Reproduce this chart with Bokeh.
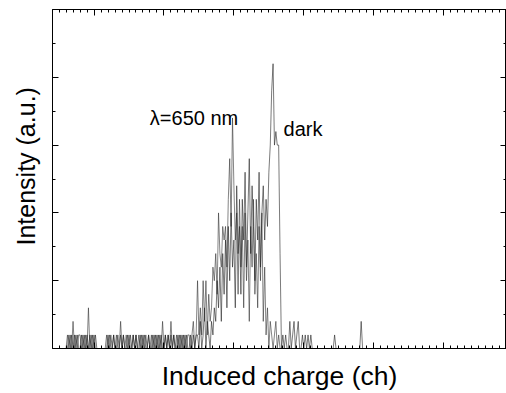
import numpy as np
from bokeh.plotting import figure
from bokeh.models import LinearAxis, FixedTicker, Label, Range1d, Title
from bokeh.embed import file_html
from bokeh.resources import INLINE

# ---- data (counts per channel) ----
lambda_start = 30
lambda_counts = (
    [0, 1, 0, 1, 0, 2, 0, 1, 0, 1, 1, 0, 1, 0, 1, 0, 3, 0, 1, 0, 1, 0, 0]
    + [0, 0, 0, 0, 0, 0]
    + [1, 0, 1, 0, 0, 1, 0, 1, 0, 0, 2, 0, 1, 0, 1, 0, 1, 0, 0, 1, 0, 1]
    + [0, 1, 0, 1, 0, 1, 0, 0, 1, 0, 1, 0, 1, 0, 1, 0, 1, 0, 2, 0, 1, 0, 1, 0, 2, 0, 1, 0, 1, 0]
    + [1, 0, 1, 0, 1, 0, 1, 1, 0, 1, 2, 0, 1]
    + [5, 1, 3, 1, 5, 2, 5, 1, 4, 2, 3, 6, 5, 7, 4, 10, 7, 6, 9, 8, 9, 6, 11, 14, 9, 17, 12]
    + [8, 10, 4, 11, 6, 9, 3, 10, 5, 8, 2, 9, 6, 11, 4, 7, 3, 9, 5, 10, 2, 6, 1, 3, 0, 2, 1, 0, 1, 2, 0, 1, 0, 0]
)

dark_start = 30
dark_counts = (
    [0, 0, 1, 0, 1, 0, 1, 0, 1, 0, 0, 1, 0, 1, 0, 1, 0, 1, 0, 1, 0, 1, 0]
    + [0, 0, 0, 0, 0, 0]
    + [0, 1, 0, 1, 0, 1, 0, 0, 1, 0, 1, 0, 1, 0, 0, 1, 0, 1, 0, 1, 0, 1, 0, 0, 1,
       0, 1, 0, 1, 0, 1, 0, 0, 1, 0, 1, 0, 1, 0, 1, 0, 0, 1, 0, 1, 0, 1, 0, 1, 0,
       0, 1, 0, 1, 0, 1, 0, 1, 0, 0, 1, 0, 1, 0, 1]
    + [1, 0, 2, 0, 1, 3, 0, 2, 1, 0, 2]
    + [1, 3, 2, 5, 3, 6, 2, 7, 4, 8]
    + [3, 9, 5, 10, 6, 8, 3, 12, 7, 9]
    + [4, 11, 8, 13, 6, 10, 14, 7, 12, 9]
    + [5, 11, 8, 13, 6, 10, 12, 8, 11, 9]
    + [13, 15, 19, 21, 15, 16, 15, 15, 7, 0]
    + [1, 0, 1, 0, 0, 2, 0, 1, 2, 0, 1, 2, 0, 0, 1, 0, 1, 0, 1, 0, 1, 0]
    + [0] * 15 + [1] + [0] * 18 + [2] + [0] * 9
)

x_major = [50, 100, 150, 200, 250, 300]
x_minor = list(range(25, 350, 5))
y_major = [5, 10, 15, 20]
y_minor = [2.5, 7.5, 12.5, 17.5, 22.5]

lambda_label = "λ=650 nm"
dark_label = "dark"
x_title = "Induced charge (ch)"
y_title = "Intensity (a.u.)"

lx = np.arange(lambda_start, lambda_start + len(lambda_counts))
dx = np.arange(dark_start, dark_start + len(dark_counts))

FONT = "Liberation Sans"

p = figure(width=506, height=393, x_range=Range1d(20.3, 344.9), y_range=Range1d(0, 25),
           output_backend="svg", toolbar_location=None, min_border=0,
           min_border_left=52, min_border_right=0, min_border_top=9, min_border_bottom=44)
p.grid.visible = False
p.outline_line_color = "black"
p.outline_line_width = 1
p.background_fill_color = "white"
p.border_fill_color = "white"

xt = FixedTicker(ticks=x_major, minor_ticks=x_minor)
yt = FixedTicker(ticks=y_major, minor_ticks=y_minor)

p.xaxis.ticker = xt
p.yaxis.ticker = yt
p.add_layout(LinearAxis(ticker=xt), "above")
p.add_layout(LinearAxis(ticker=yt), "right")

for ax in p.axis:
    ax.axis_line_color = "black"
    ax.major_tick_in = 6
    ax.major_tick_out = 0
    ax.minor_tick_in = 3
    ax.minor_tick_out = 0
    ax.major_tick_line_color = "black"
    ax.minor_tick_line_color = "black"
    ax.major_label_standoff = 0
    ax.axis_label_standoff = 0
    ax.major_label_text_font_size = "0px"

for ax in p.xaxis:
    ax.major_label_overrides = {t: "" for t in x_major}
for ax in p.yaxis:
    ax.major_label_overrides = {t: "" for t in y_major}

p.below[0].axis_label = x_title
p.below[0].axis_label_text_font = FONT
p.below[0].axis_label_text_font_size = "26.5px"
p.below[0].axis_label_text_font_style = "normal"
p.below[0].axis_label_text_color = "black"
p.below[0].axis_label_standoff = 12

ytitle = Title(text=y_title, align="left", vertical_align="top", offset=103, text_font=FONT,
               text_font_size="25px", text_font_style="normal", text_color="black",
               standoff=22)
p.add_layout(ytitle, "left")

p.line(lx, lambda_counts, line_color="#333333", line_width=0.6)
p.line(dx, dark_counts, line_color="#222222", line_width=0.6)

p.add_layout(Label(x=89.9, y=17.0, text=lambda_label, text_font=FONT,
                   text_font_size="20px", text_color="black", text_baseline="alphabetic"))
p.add_layout(Label(x=185.5, y=16.2, text=dark_label, text_font=FONT,
                   text_font_size="20px", text_color="black", text_baseline="alphabetic"))

open("out.html", "w").write(file_html(p, INLINE))
